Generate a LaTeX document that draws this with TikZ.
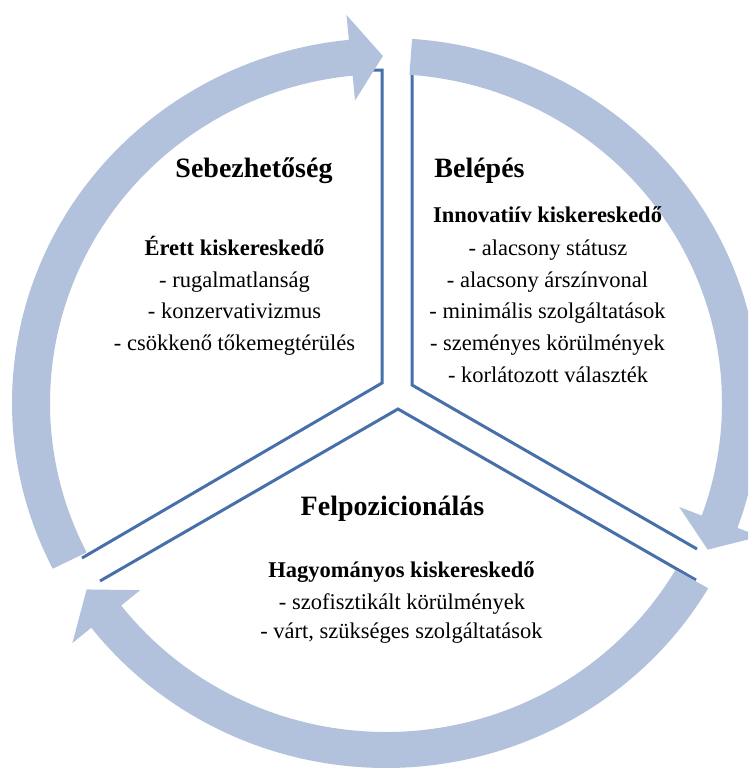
\documentclass[tikz,border=0pt]{standalone}
\usepackage{fontspec}
\setmainfont{Liberation Serif}
\definecolor{ringblue}{HTML}{B2C2DC}
\definecolor{lineblue}{HTML}{4770AA}
\tikzset{
  ringarrow/.style={fill=ringblue, draw=none},
  sectorline/.style={draw=lineblue, line width=3pt, line join=miter},
  headtext/.style={font=\fontsize{28}{32}\selectfont\bfseries, anchor=base, inner sep=0pt},
  subhead/.style={font=\fontsize{22.5}{30}\selectfont\bfseries, anchor=base, inner sep=0pt},
  bodytext/.style={font=\fontsize{22.5}{30}\selectfont, anchor=base, inner sep=0pt},
}
\begin{document}
\begin{tikzpicture}[x=1pt,y=-1pt]
\useasboundingbox (0,0) rectangle (748,771);
\clip (0,0) rectangle (748,771);

% sector outlines
\draw[sectorline] (369,70) -- (382,70) -- (382,383) -- (82,558);
\draw[sectorline] (425,72) -- (412,72) -- (412,385) -- (697,549);
\draw[sectorline] (100,581) -- (398,409) -- (696,580);

% ring of arrows
\begin{scope}[shift={(386,403)}]
\fill[ringarrow] (153:374 and 365)
  arc[start angle=153, end angle=264.3, x radius=374, y radius=365]
  -- (264.3:398 and 390) -- (269.5:355 and 347) -- (264.3:312 and 304)
  -- (264.3:336 and 329)
  arc[start angle=264.3, end angle=153, x radius=336, y radius=329] -- cycle;
\fill[ringarrow] (-86:374 and 365)
  arc[start angle=-86, end angle=20, x radius=374, y radius=365]
  -- (20:398 and 390) -- (25:355 and 347) -- (20:312 and 304)
  -- (20:336 and 329)
  arc[start angle=20, end angle=-86, x radius=336, y radius=329] -- cycle;
\fill[ringarrow] (30.5:374 and 365)
  arc[start angle=30.5, end angle=142, x radius=374, y radius=365]
  -- (142:398 and 390) -- (147.5:355 and 347) -- (142:312 and 304)
  -- (142:336 and 329)
  arc[start angle=142, end angle=30.5, x radius=336, y radius=329] -- cycle;
\end{scope}

% left sector text
\node[headtext] (sebh) at (254,177) {Sebezhetőség};
\node[subhead] (seb0) at (234.5,255) {Érett kiskereskedő};
\node[bodytext] (seb1) at (234.5,287) {- rugalmatlanság};
\node[bodytext] (seb2) at (234.5,318) {- konzervativizmus};
\node[bodytext] (seb3) at (234.5,350) {- csökkenő tőkemegtérülés};

% right sector text
\node[headtext] (belh) at (479.5,177) {Belépés};
\node[subhead] (bel0) at (547.5,222) {Innovatiív kiskereskedő};
\node[bodytext] (bel1) at (548,255) {- alacsony státusz};
\node[bodytext] (bel2) at (547.5,287) {- alacsony árszínvonal};
\node[bodytext] (bel3) at (547.5,318) {- minimális szolgáltatások};
\node[bodytext] (bel4) at (547.5,350) {- szeményes körülmények};
\node[bodytext] (bel5) at (548,382) {- korlátozott választék};

% bottom sector text
\node[headtext] (felh) at (392.5,515) {Felpozicionálás};
\node[subhead] (fel0) at (401.5,577) {Hagyományos kiskereskedő};
\node[bodytext] (fel1) at (402,609) {- szofisztikált körülmények};
\node[bodytext] (fel2) at (401.5,638) {- várt, szükséges szolgáltatások};
\end{tikzpicture}
\end{document}
